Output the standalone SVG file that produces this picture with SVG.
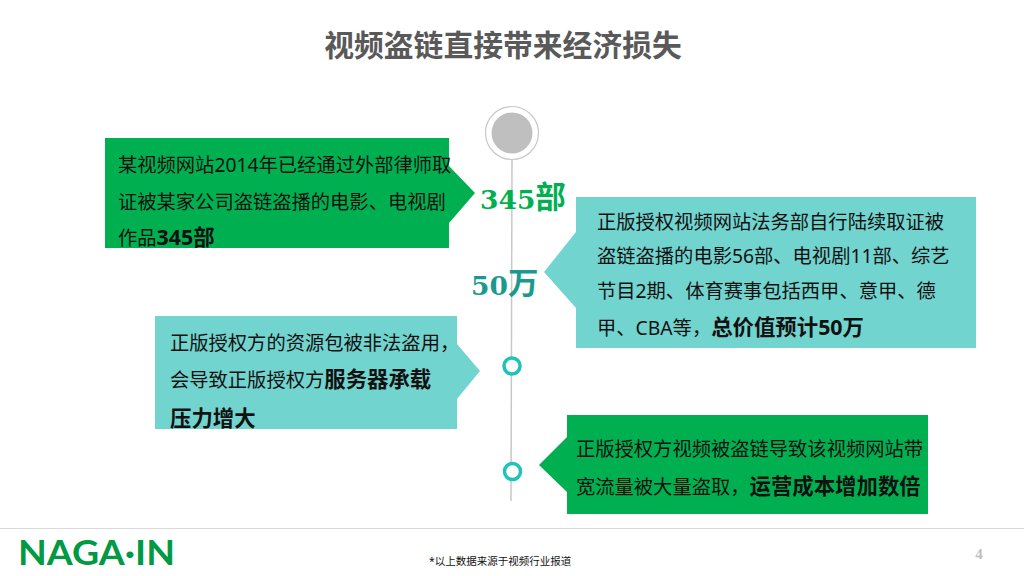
<svg xmlns="http://www.w3.org/2000/svg" width="1024" height="576" viewBox="0 0 1024 576">
<style>
text{font-family:"Noto Sans","Noto Sans CJK SC",sans-serif;fill:#111}
.t{font-size:19.3px}
.b{font-weight:700;font-size:21.400px}
.big{font-family:"DejaVu Serif","Noto Sans CJK SC",serif;font-weight:700;font-size:26.500px}
.cjk{font-family:"Noto Sans CJK SC",sans-serif;font-size:30.500px}
.ring{fill:#fff;stroke:#1fc4b8;stroke-width:3.5}
</style>
<rect width="1024" height="576" fill="#fff"/>
<text x="503" y="56" text-anchor="middle" font-size="29.800" font-weight="700" style="fill:#595959">视频盗链直接带来经济损失</text>
<g id="connectors"><path d="M512 158 L511 501" stroke="#c8c8c8" stroke-width="1.5" fill="none"/></g>
<g id="hub"><circle cx="512" cy="133" r="26.5" fill="#fff" stroke="#c8c8c8" stroke-width="1.2"/><circle cx="512" cy="133" r="20.5" fill="#bfbfbf"/></g>
<g id="n1">
<path d="M105 138H449V166L475 193L449 223V248H105Z" fill="#00b050"/>
<text class="t" x="118" y="172">某视频网站2014年已经通过外部律师取</text>
<text class="t" x="118" y="209">证被某家公司盗链盗播的电影、电视剧</text>
<text class="t" x="118" y="245">作品<tspan class="b">345部</tspan></text>
</g>
<g id="v1"><text class="big" x="480" y="209" style="fill:#00b050">345<tspan class="cjk" dy="-1">部</tspan></text></g>
<g id="v2"><text class="big" x="471" y="295" style="fill:#1a9a8e">50<tspan class="cjk" dy="-1">万</tspan></text></g>
<g id="n2">
<path d="M576 197H976V348H576V308L544 272L576 232Z" fill="#72d4cf"/>
<text class="t" x="597" y="229">正版授权视频网站法务部自行陆续取证被</text>
<text class="t" x="597" y="263">盗链盗播的电影56部、电视剧11部、综艺</text>
<text class="t" x="597" y="298">节目2期、体育赛事包括西甲、意甲、德</text>
<text class="t" x="597" y="335">甲、CBA等，<tspan class="b">总价值预计50万</tspan></text>
</g>
<g id="n3">
<path d="M155 316H457V344L480 371L457 399V429H155Z" fill="#72d4cf"/>
<text class="t" x="170" y="350">正版授权方的资源包被非法盗用，</text>
<text class="t" x="170" y="387">会导致正版授权方<tspan class="b">服务器承载</tspan></text>
<text class="b" x="170" y="426">压力增大</text>
</g>
<g id="m1"><circle class="ring" cx="512" cy="366" r="8"/></g>
<g id="m2"><circle class="ring" cx="512.5" cy="471.500" r="8"/></g>
<g id="n4">
<path d="M567 415H928V514H567V492L539 465L567 437Z" fill="#00b050"/>
<text class="t" x="576" y="456">正版授权方视频被盗链导致该视频网站带</text>
<text class="t" x="576" y="494">宽流量被大量盗取，<tspan class="b">运营成本增加数倍</tspan></text>
</g>
<g id="footer">
<path d="M0 528.500H1024" stroke="#d9d9d9" stroke-width="1"/>
<text x="18" y="565" font-size="35" font-weight="700" textLength="157" lengthAdjust="spacingAndGlyphs" style="font-family:Lato,sans-serif;fill:#009a44">NAGA·IN</text>
<text x="429" y="565" font-size="10.500">*以上数据来源于视频行业报道</text>
<text x="979" y="559" text-anchor="middle" font-size="15" font-weight="700" style="font-family:'Liberation Serif',serif;fill:#bfbfbf">4</text>
</g>
</svg>
